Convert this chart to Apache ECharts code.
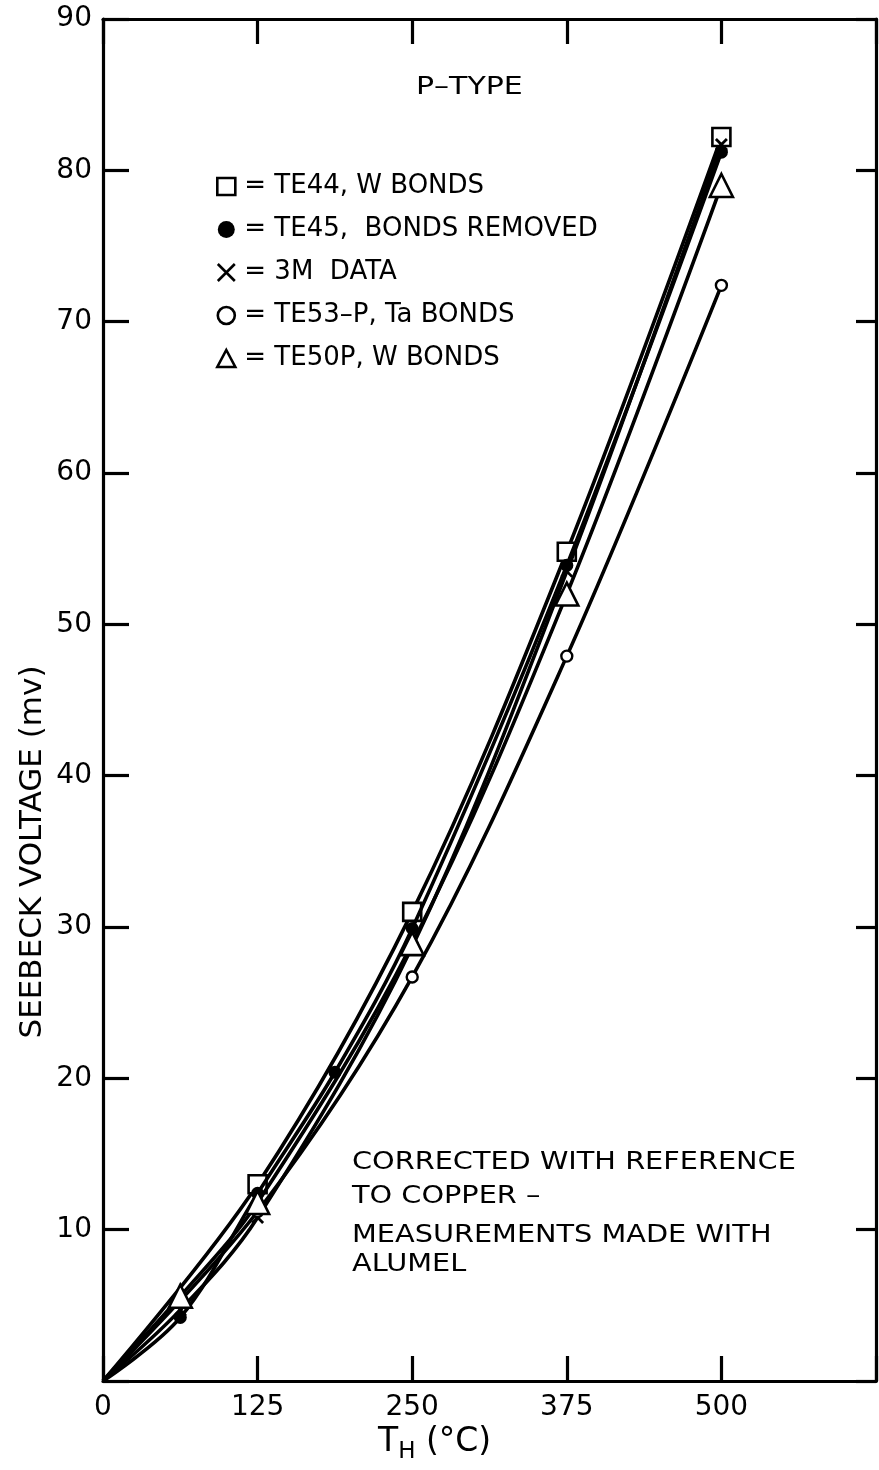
<!DOCTYPE html>
<html>
<head>
<meta charset="utf-8">
<script src="https://cdn.jsdelivr.net/npm/echarts@6/dist/echarts.min.js"></script>
<style>
html,body{margin:0;padding:0;background:#fff;}
#chart{width:879px;height:1470px;}
</style>
</head>
<body>
<div id="chart"></div>
<script>
// ---- data ----
const xTicks = [0, 125, 250, 375, 500];
const yTicks = [10, 20, 30, 40, 50, 60, 70, 80, 90];
const seriesNames = ['= TE44, W BONDS', '= TE45,  BONDS REMOVED', '= 3M  DATA', '= TE53–P, Ta BONDS', '= TE50P, W BONDS'];
const te44 = [[125, 13.0], [250, 31.0], [375, 54.8], [500, 82.2]];
const te45 = [[62.5, 4.2], [125, 12.4], [187.5, 20.4], [250, 29.9], [375, 53.9], [500, 81.2]];
const data3m = [[62.5, 4.7], [125, 10.8], [250, 28.7], [375, 53.5], [500, 81.7]];
const te53 = [[125, 11.2], [250, 26.7], [375, 47.9], [500, 72.4]];
const te50 = [[62.5, 5.6], [125, 11.8], [250, 28.9], [375, 52.0], [500, 79.0]];
const origin = [0, 0];

const FONT = 'DejaVu Sans';
const chart = echarts.init(document.getElementById('chart'), null, {renderer: 'canvas'});

const xPath = 'path://M0,0L10,10M10,0L0,10';
const styles = [
  {symbol: 'rect', size: 18, color: '#fff', border: 2.6},
  {symbol: 'circle', size: 13, color: '#000', border: 0},
  {symbol: xPath, size: 11, color: '#000', border: 2.8},
  {symbol: 'circle', size: 11, color: '#fff', border: 2.4},
  {symbol: 'triangle', size: 23, color: '#fff', border: 2.6}
];
const allData = [te44, te45, data3m, te53, te50];

const series = allData.map((d, i) => ({
  name: seriesNames[i],
  type: 'line',
  smooth: 0.35,
  symbol: styles[i].symbol,
  symbolSize: styles[i].size,
  showAllSymbol: true,
  lineStyle: {color: '#000', width: 3.6},
  itemStyle: {color: styles[i].color, borderColor: '#000', borderWidth: styles[i].border},
  z: 2 + i,
  data: [{value: origin, symbol: 'none'}].concat(d.map(p => ({value: p}))),
  animation: false
}));

const tickStyle = {color: '#000', width: 3.2};
function axisBase(extra) {
  return Object.assign({
    type: 'value',
    axisLine: {show: true, onZero: false, lineStyle: tickStyle},
    splitLine: {show: false}
  }, extra);
}
const labelFont = {color: '#000', fontFamily: FONT, fontSize: 28};

chart.setOption({
  backgroundColor: '#fff',
  animation: false,
  grid: {left: 103, right: 1, top: 19, bottom: 89, containLabel: false},
  legend: {
    orient: 'vertical',
    left: 211,
    top: 168,
    itemGap: 16,
    itemWidth: 18,
    itemHeight: 17,
    textStyle: {color: '#000', fontFamily: FONT, fontSize: 26, lineHeight: 27, padding: [0, 0, 0, 4]},
    selectedMode: false,
    data: seriesNames.map((n, i) => ({
      name: n,
      icon: i === 2 ? xPath : styles[i].symbol,
      itemStyle: {color: styles[i].color, borderColor: '#000', borderWidth: i === 1 ? 0 : 2.6}
    }))
  },
  xAxis: [
    axisBase({min: 0, max: 625, interval: 125, position: 'bottom',
      axisTick: {show: true, inside: true, length: 25, lineStyle: tickStyle},
      axisLabel: Object.assign({margin: 13, formatter: v => (xTicks.indexOf(v) >= 0 ? String(v) : '')}, labelFont)}),
    axisBase({min: 0, max: 625, interval: 125, position: 'top',
      axisTick: {show: true, inside: true, length: 25, lineStyle: tickStyle},
      axisLabel: {show: false}})
  ],
  yAxis: [
    axisBase({min: 0, max: 90, interval: 10, position: 'left',
      axisTick: {show: true, inside: true, length: 26, lineStyle: tickStyle},
      axisLabel: Object.assign({margin: 11, formatter: v => (yTicks.indexOf(v) >= 0 ? String(v) : '')}, labelFont)}),
    axisBase({min: 0, max: 90, interval: 10, position: 'right',
      axisTick: {show: true, inside: true, length: 20, lineStyle: tickStyle},
      axisLabel: {show: false}})
  ],
  graphic: [
    {type: 'text', x: 416, y: 75, scaleX: 1.2, style: {text: 'P–TYPE', fill: '#000', font: '25px "DejaVu Sans"'}},
    {type: 'text', x: 352, y: 1150, scaleX: 1.15, style: {text: 'CORRECTED WITH REFERENCE', fill: '#000', font: '25px "DejaVu Sans"'}},
    {type: 'text', x: 352, y: 1184, scaleX: 1.15, style: {text: 'TO COPPER –', fill: '#000', font: '25px "DejaVu Sans"'}},
    {type: 'text', x: 352, y: 1223, scaleX: 1.15, style: {text: 'MEASUREMENTS MADE WITH', fill: '#000', font: '25px "DejaVu Sans"'}},
    {type: 'text', x: 352, y: 1252, scaleX: 1.15, style: {text: 'ALUMEL', fill: '#000', font: '25px "DejaVu Sans"'}},
    {type: 'text', x: 33, y: 852, rotation: Math.PI / 2, style: {text: 'SEEBECK VOLTAGE (mv)', fill: '#000', font: '31px "DejaVu Sans"', align: 'center', verticalAlign: 'middle'}},
    {type: 'text', x: 378, y: 1421, style: {
      text: '{t|T}{s|H}{t| (°C)}', fill: '#000',
      rich: {t: {fontFamily: FONT, fontSize: 33, fill: '#000'}, s: {fontFamily: FONT, fontSize: 23, fill: '#000', padding: [20, 0, 0, 0]}}
    }}
  ],
  series: series
});
</script>
</body>
</html>
